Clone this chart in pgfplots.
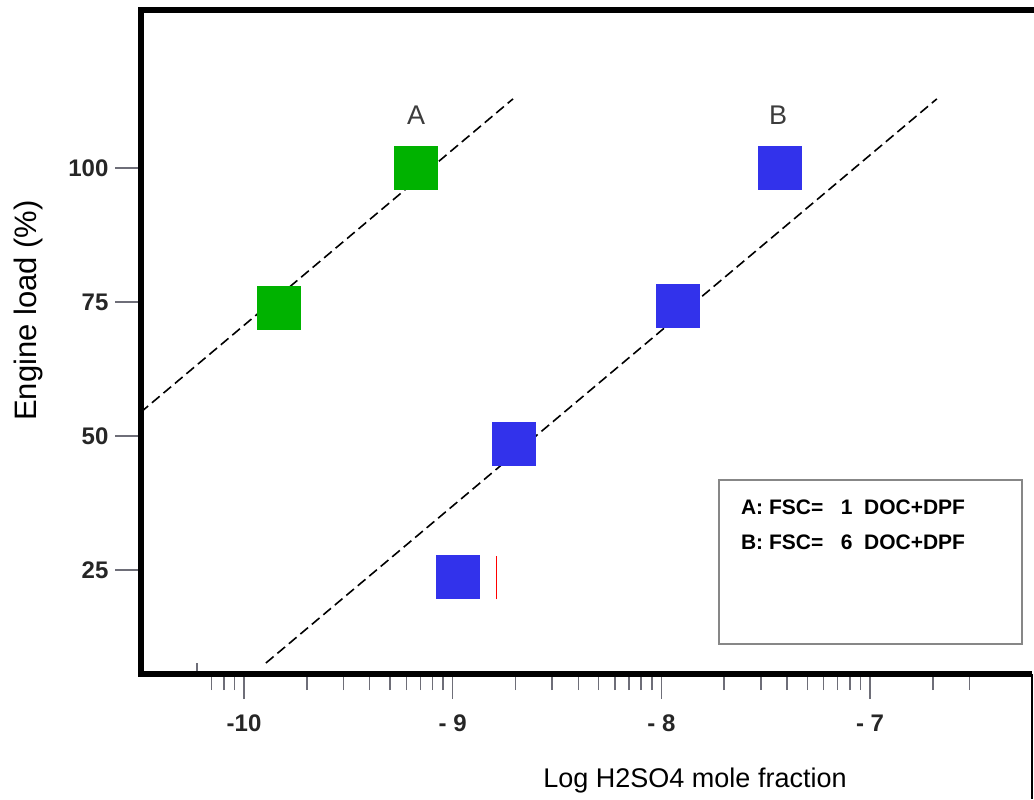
\documentclass[border=0pt]{standalone}
\usepackage{fontspec}
\setmainfont{Liberation Sans}
\usepackage{pgfplots}
\pgfplotsset{compat=1.18}
\definecolor{gA}{RGB}{0,178,0}
\definecolor{bB}{RGB}{50,50,235}
\definecolor{tickgray}{RGB}{110,110,120}
\definecolor{boxgray}{RGB}{135,135,135}
\definecolor{lblgray}{RGB}{60,60,60}
\begin{document}
\begin{tikzpicture}
\useasboundingbox (0,0) rectangle (517pt,399.5pt);
\begin{axis}[
  name=ax,
  at={(70.25pt,62.5pt)}, anchor=south west,
  scale only axis, width=445.75pt, height=332pt,
  xmin=-10.496, xmax=-6.224, ymin=5.6, ymax=129.48,
  axis line style={draw=none},
  xtick={-10,-9,-8,-7}, xticklabels={-10,- 9,- 8,- 7},
  minor xtick={-10.155,-10.097,-10.046,
    -9.699,-9.523,-9.398,-9.301,-9.222,-9.155,-9.097,-9.046,
    -8.699,-8.523,-8.398,-8.301,-8.222,-8.155,-8.097,-8.046,
    -7.699,-7.523,-7.398,-7.301,-7.222,-7.155,-7.097,-7.046,
    -6.699,-6.523},
  ytick={25,50,75,100}, yticklabels={25,50,75,100},
  tick align=outside, xtick pos=bottom, ytick pos=left,
  major tick length=12.5pt, minor tick length=8pt,
  tick style={draw=tickgray, line width=0.75pt},
  ticklabel style={font=\bfseries\fontsize{12}{14}\selectfont, text=black!85},
  xticklabel style={yshift=-4.5pt},
  xlabel={Log H2SO4 mole fraction},
  ylabel={Engine load (\%)},
  xlabel style={at={(axis description cs:0.622,-0.16)}, anchor=center, font=\fontsize{13.5}{16}\selectfont},
  ylabel style={at={(axis description cs:-0.1256,0.5475)}, anchor=center, font=\fontsize{15.5}{18}\selectfont},
]
\addplot[black, line width=0.8pt, dash pattern=on 5pt off 2.5pt] coordinates {(-10.496,54.4) (-8.711,112.9)};
\addplot[black, line width=0.8pt, dash pattern=on 5pt off 2.5pt] coordinates {(-9.895,7.65) (-6.68,112.9)};
\addplot[only marks, mark=square*, mark size=10.75pt, mark options={fill=gA, draw=gA, line width=0.3pt}] coordinates {(-9.179,100) (-9.832,73.9)};
\addplot[only marks, mark=square*, mark size=10.75pt, mark options={fill=bB, draw=bB, line width=0.3pt}] coordinates {(-7.432,100) (-7.920,74.3) (-8.709,48.6) (-8.976,23.8)};
\addplot[red, line width=0.7pt] coordinates {(-8.791,19.5) (-8.791,27.6)};
\node[text=lblgray, font=\fontsize{13.5}{16}\selectfont] at (axis cs:-9.175,109.9) {A};
\node[text=lblgray, font=\fontsize{13.5}{16}\selectfont] at (axis cs:-7.44,109.9) {B};
\end{axis}
\draw[line width=3pt, line join=miter] ([xshift=1pt]ax.north east) -- (ax.north west) -- (ax.south west) -- (ax.south east);
\draw[line width=0.75pt] (516pt,62.5pt) -- (516pt,0pt);
\draw[tickgray, line width=0.75pt] (98.5pt,64pt) -- (98.5pt,68pt);
\draw[boxgray, line width=0.75pt] (359.5pt,77.5pt) rectangle (511pt,159.5pt);
\node[anchor=west, font=\bfseries\fontsize{10.5}{12}\selectfont] at (367pt,146pt) {A: FSC=\ \ \ 1\ \ DOC+DPF};
\node[anchor=west, font=\bfseries\fontsize{10.5}{12}\selectfont] at (367pt,128.5pt) {B: FSC=\ \ \ 6\ \ DOC+DPF};
\end{tikzpicture}
\end{document}
